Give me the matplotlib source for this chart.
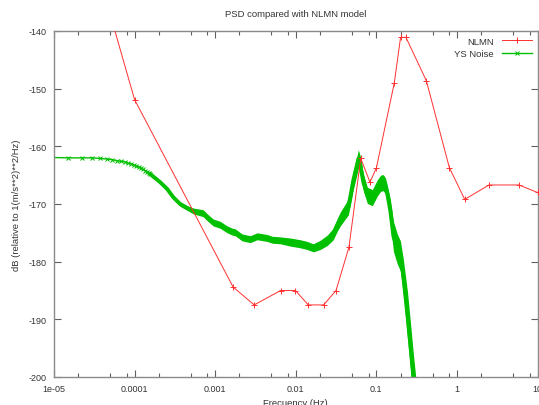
import matplotlib
matplotlib.use('Agg')
import matplotlib.pyplot as plt
from matplotlib.ticker import LogLocator, FixedLocator, NullFormatter

plt.rcParams['font.family'] = ['Liberation Sans', 'DejaVu Sans']

# Peterson new low noise model (NLMN), frequency in Hz, level in dB
nlmn_freq = [1e-05, 0.0001, 0.00167, 0.00305, 0.00649, 0.0099, 0.01429,
             0.0222, 0.0316, 0.0457, 0.0641, 0.0833, 0.1, 0.167, 0.2,
             0.233, 0.417, 0.806, 1.25, 2.5, 5.88, 10.0]
nlmn_db = [-103.1, -151.9, -184.4, -187.5, -185.0, -185.0, -187.5,
           -187.5, -185.0, -177.5, -162.1, -166.2, -163.8, -149.0, -141.1,
           -141.1, -148.6, -163.7, -169.2, -166.7, -166.7, -168.0]

# YS Noise PSD (centre of the noisy band)
ys_freq = [7.5e-06, 1.5e-05, 2.25e-05, 3.0e-05, 3.75e-05, 4.5e-05, 5.25e-05,
           6.0e-05, 6.75e-05, 7.5e-05, 8.25e-05, 9.0e-05, 9.75e-05, 1.05e-04,
           1.13e-04, 1.2e-04, 1.28e-04, 1.35e-04, 1.43e-04, 1.5e-04, 1.56e-04,
           2.07e-04, 2.54e-04, 3.01e-04, 3.67e-04, 4.49e-04, 5.33e-04,
           7.1e-04, 7.96e-04, 9.44e-04, 1.15e-03, 1.41e-03, 1.63e-03,
           1.77e-03, 2.16e-03, 2.72e-03, 3.32e-03, 4.43e-03, 5.11e-03,
           6.41e-03, 8.55e-03, 1.14e-02, 1.39e-02, 1.65e-02, 2.01e-02,
           2.46e-02, 2.92e-02, 3.28e-02, 3.57e-02, 4.12e-02, 4.49e-02,
           4.75e-02, 5.18e-02, 5.81e-02, 5.98e-02, 6.33e-02, 6.9e-02,
           7.73e-02, 8.92e-02, 0.103, 0.113, 0.122, 0.13, 0.137, 0.149, 0.163,
           0.182, 0.199, 0.216, 0.243, 0.264, 0.288, 0.314]
ys_db = [-161.9, -162.0, -162.0, -162.0, -162.1, -162.2, -162.3,
         -162.5, -162.6, -162.7, -162.9, -163.0, -163.2, -163.4,
         -163.6, -163.8, -164.0, -164.2, -164.4, -164.6, -164.8,
         -166.2, -167.4, -168.8, -170.0, -170.7, -171.2,
         -171.6, -172.3, -173.2, -173.6, -174.4, -174.8,
         -174.9, -175.8, -176.1, -175.6, -175.9, -176.2,
         -176.3, -176.6, -176.9, -177.2, -177.6, -177.1,
         -176.3, -175.2, -173.6, -172.6, -171.3, -170.5,
         -168.8, -165.9, -163.0, -162.2, -163.3, -166.2,
         -168.5, -168.9, -167.2, -166.4, -166.3, -166.9, -168.3, -171.1,
         -175.6, -177.8, -179.0, -182.5, -189.1, -194.3, -200.0, -205.0]
# half width of the noise band, dB
ys_spread = [0.0] * 21 + [0.2, 0.3, 0.3, 0.4, 0.4, 0.5,
             0.6, 0.6, 0.6, 0.6, 0.6, 0.6,
             0.6, 0.6, 0.6, 0.6, 0.6, 0.6,
             0.6, 0.7, 0.7, 0.7, 0.7, 0.8,
             0.9, 1.0, 1.1, 1.2, 1.3, 1.4,
             1.5, 1.6, 1.6, 1.6, 1.6, 1.5,
             1.4, 1.4, 1.4, 1.4, 1.4, 1.4, 1.5, 2.0, 2.6,
             2.6, 2.6, 3.0, 4.0, 4.0, 4.0, 4.0]

xticks = [1e-05, 0.0001, 0.001, 0.01, 0.1, 1, 10]
xtick_labels = ['1e-05', '0.0001', '0.001', '0.01', '0.1', '1', '10']
yticks = [-200, -190, -180, -170, -160, -150, -140]

fig = plt.figure(figsize=(5.39, 4.06), dpi=100)
ax = fig.add_axes([54 / 539, 1 - 378 / 406, 483.5 / 539, 346 / 406])

green = '#00c000'
lower = [d - s for d, s in zip(ys_db, ys_spread)]
upper = [d + s for d, s in zip(ys_db, ys_spread)]
ax.fill_between(ys_freq, lower, upper, color=green, lw=0, zorder=2)
n_sparse = 21
ax.plot(ys_freq[n_sparse - 2:], ys_db[n_sparse - 2:], color=green, lw=2.8,
        solid_capstyle='butt', zorder=2)
ax.plot(ys_freq, ys_db, color=green, lw=1.0, marker='x', ms=3.5, mew=0.7,
        markevery=list(range(n_sparse)), label='YS Noise', zorder=2)
ax.plot(nlmn_freq, nlmn_db, color='#ff3030', lw=0.7, marker='+', ms=4,
        mew=0.7, label='NLMN', zorder=3)

ax.set_xscale('log')
ax.set_xlim(1e-05, 10)
ax.set_ylim(-200, -140)
ax.xaxis.set_major_locator(FixedLocator(xticks))
ax.set_xticklabels(xtick_labels)
ax.xaxis.set_minor_locator(LogLocator(base=10, subs=[2, 5, 8]))
ax.xaxis.set_minor_formatter(NullFormatter())
ax.set_yticks(yticks)
ax.set_yticklabels([str(v) for v in yticks])

ax.tick_params(which='both', direction='in', top=True, right=True,
               colors='#606060', labelcolor='#333333', labelsize=6.5)
ax.tick_params(which='major', length=5, width=0.8, pad=5)
ax.tick_params(which='minor', length=3, width=0.8)
for sp in ax.spines.values():
    sp.set_color('#8a8a8a')
    sp.set_linewidth(1.0)

ax.set_title('PSD compared with NLMN model', fontsize=6.8, color='#333333',
             pad=11)
ax.set_xlabel('Frecuency (Hz)', fontsize=6.8, color='#333333', labelpad=4)
ax.set_ylabel('dB (relative to 1(m/s**2)**2/Hz)', fontsize=6.8,
              color='#333333', labelpad=6)

handles, labels = ax.get_legend_handles_labels()
ax.legend(handles[::-1], labels[::-1], loc='upper right', frameon=False,
          markerfirst=False, fontsize=6.8, handlelength=3.2,
          labelspacing=0.35, borderaxespad=0.2, handletextpad=0.8,
          labelcolor='#333333')

fig.savefig('out.png', dpi=100)
